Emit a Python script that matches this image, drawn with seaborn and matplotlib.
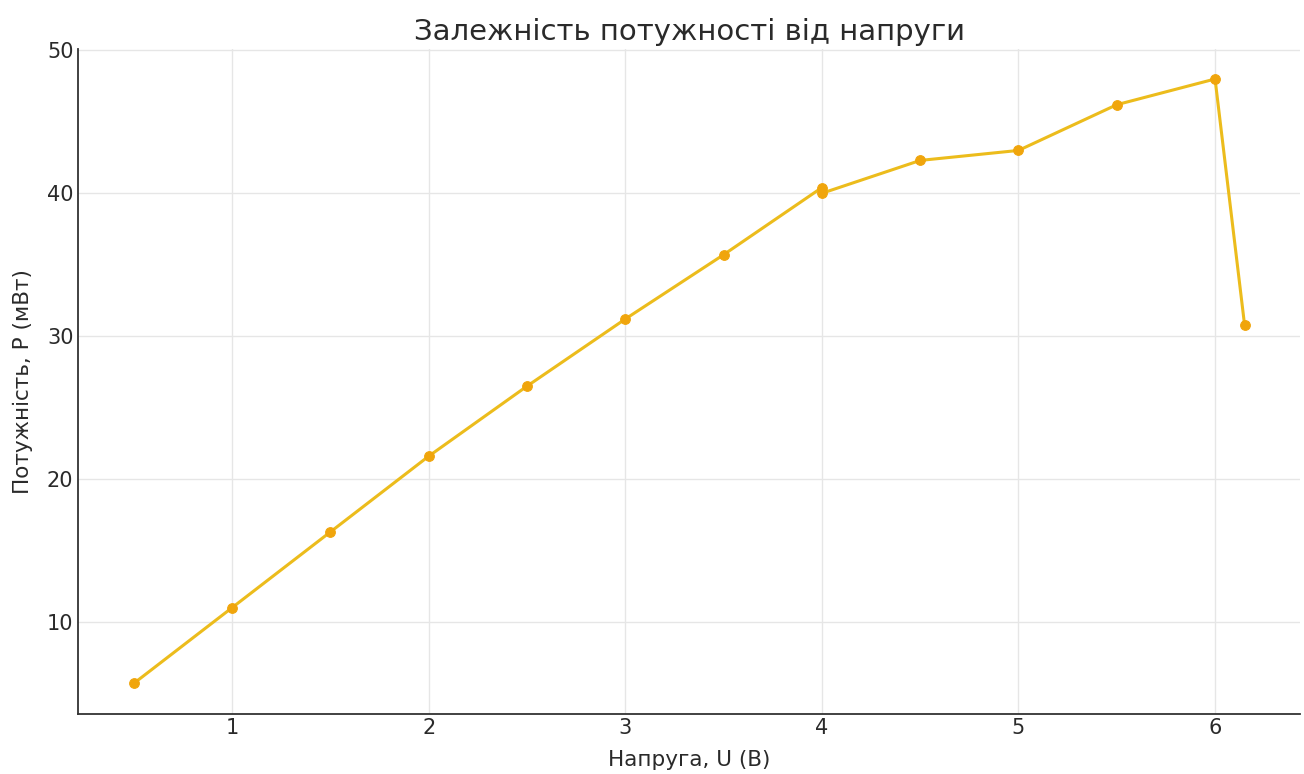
import seaborn as sns
import matplotlib.pyplot as plt
import pandas as pd

voltage = [0.5, 1.0, 1.5, 2.0, 2.5, 3.0, 3.5, 4.0, 4.0, 4.5, 5.0, 5.5, 6.0, 6.15]
power = [5.7, 11.0, 16.3, 21.6, 26.5, 31.2, 35.7, 40.4, 40.0, 42.3, 43.0, 46.2, 48.0, 30.8]

df = pd.DataFrame({'U': voltage, 'P': power})

sns.set_style('whitegrid')
plt.rcParams['font.family'] = ['DejaVu Sans']

fig, ax = plt.subplots(figsize=(13.04, 7.74), dpi=100)
sns.lineplot(data=df, x='U', y='P', ax=ax, sort=False, estimator=None,
             color='#ecbc1c', linewidth=2.2, marker='o', markersize=7,
             markerfacecolor='#f0a50c', markeredgecolor='#f0a50c')

ax.set_title('Залежність потужності від напруги', fontsize=21, color='#2a2a2a')
ax.set_xlabel('Напруга, U (В)', fontsize=15.5, color='#2a2a2a', labelpad=8)
ax.set_ylabel('Потужність, P (мВт)', fontsize=15.5, color='#2a2a2a', labelpad=10)
ax.set_yticks([10, 20, 30, 40, 50])
ax.set_xticks([1, 2, 3, 4, 5, 6])
ax.tick_params(direction='in', labelsize=15, length=5, colors='#2a2a2a')

for side in ['top', 'right']:
    ax.spines[side].set_visible(False)
for side in ['left', 'bottom']:
    ax.spines[side].set_color('#333333')
    ax.spines[side].set_linewidth(1.3)
ax.grid(color='#e6e6e6', linewidth=1)

fig.subplots_adjust(left=0.06, right=0.997, top=0.937, bottom=0.078)
plt.savefig('out.png', dpi=100)
plt.close()
